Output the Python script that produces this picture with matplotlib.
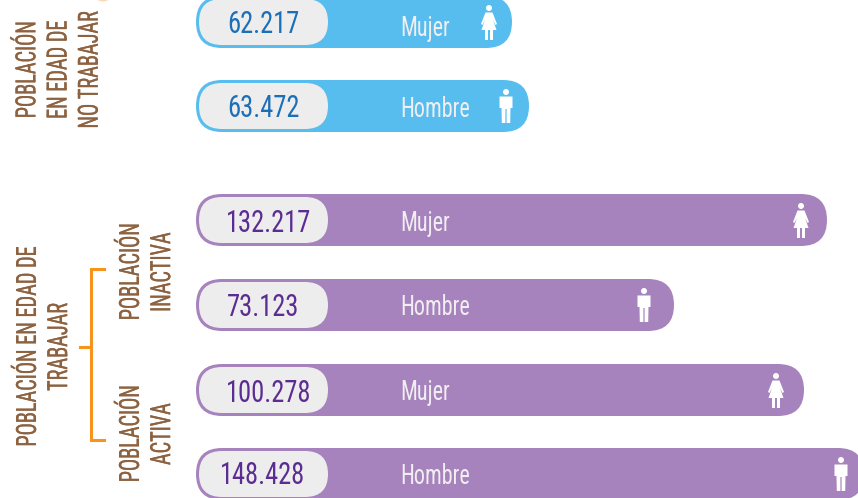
import matplotlib
matplotlib.use("Agg")
import matplotlib.pyplot as plt
from matplotlib import font_manager as fm
from matplotlib import patheffects as pe
from matplotlib.patches import FancyBboxPatch, Circle, Polygon, Rectangle, Ellipse

names = {f.name for f in fm.fontManager.ttflist}
BASE = next((n for n in ("Roboto Condensed", "Liberation Sans Narrow", "Roboto", "Noto Sans") if n in names), "DejaVu Sans")


def narrow_font(scale, out):
    """Return FontProperties of a horizontally scaled copy of the base font (real text stays real text)."""
    path = fm.findfont(BASE)
    try:
        from fontTools.ttLib import TTFont
        f = TTFont(path)
        for t in ("gvar", "HVAR", "MVAR", "avar", "fvar", "STAT"):
            if t in f:
                del f[t]
        glyf = f["glyf"]
        for name in glyf.keys():
            g = glyf[name]
            if g.isComposite():
                for c in g.components:
                    c.x = round(c.x * scale)
            elif g.numberOfContours > 0:
                g.coordinates.scale((scale, 1))
                g.coordinates.toInt()
            g.recalcBounds(glyf)
        hmtx = f["hmtx"]
        for name, (adv, lsb) in list(hmtx.metrics.items()):
            hmtx.metrics[name] = (round(adv * scale), round(lsb * scale))
        f.save(out)
        return {"fontproperties": fm.FontProperties(fname=out)}, True
    except Exception:
        return {"family": BASE}, False


# ---- data ----
value_labels = ["62.217", "63.472", "132.217", "73.123", "100.278", "148.428"]
sex_labels = ["Mujer", "Hombre", "Mujer", "Hombre", "Mujer", "Hombre"]
bar_lengths = [316, 333, 631, 478, 608, 668]   # drawn length
row_groups = ["blue", "blue", "purple", "purple", "purple", "purple"]

# ---- layout / style ----
W, H = 858, 498
X0 = 196
ROW_Y = [22, 106, 220, 305, 390, 474]
NUM_X = [263, 263, 269, 263, 269, 263]
NUM_BASE = [11, 11, 12, 11, 12, 10]
LAB_BASE = [14, 11, 11, 10, 10, 10]
ICON_OFFSET = [23, 23, 26, 30, 28, 23]
BAR_H = 52
BAR_COL = {"blue": "#57BDEE", "purple": "#A783BD"}
NUM_COL = {"blue": "#1B6FB9", "purple": "#5B2C92"}
GREY = "#EDEDED"
LABEL_COL = "#F1EEF2"
BROWN = "#8D6240"
ORANGE = "#F7941D"

font_side, _ = narrow_font(0.73, "narrow73.ttf")
font_lab, _ = narrow_font(0.80, "narrow80.ttf")
font_num, _ = narrow_font(0.87, "narrow87.ttf")

fig = plt.figure(figsize=(W / 100, H / 100), dpi=100)
ax = fig.add_axes([0, 0, 1, 1])
ax.set_xlim(0, W)
ax.set_ylim(H, 0)
ax.axis("off")


def pill(x, y, w, h, color, z):
    r = h / 2
    ax.add_patch(FancyBboxPatch((x + r, y - h / 2 + r), w - 2 * r, h - 2 * r,
                                boxstyle=f"round,pad={r},rounding_size={r}",
                                fc=color, ec="none", zorder=z))


def woman(cx, cy, color="white"):
    ax.add_patch(Circle((cx, cy - 16), 3.0, fc=color, ec="none", zorder=5))
    ax.add_patch(Polygon([(cx - 3.5, cy - 11.5), (cx + 3.5, cy - 11.5), (cx + 8, cy + 0), (cx + 6.5, cy + 1),
                          (cx + 4, cy - 4), (cx + 7.5, cy + 6), (cx - 7.5, cy + 6), (cx - 4, cy - 4),
                          (cx - 6.5, cy + 1), (cx - 8, cy + 0)], fc=color, ec="none", zorder=5))
    ax.add_patch(Rectangle((cx - 3.8, cy + 6), 3, 10, fc=color, ec="none", zorder=5))
    ax.add_patch(Rectangle((cx + 0.8, cy + 6), 3, 10, fc=color, ec="none", zorder=5))


def man(cx, cy, color="white"):
    ax.add_patch(Circle((cx, cy - 16), 3.0, fc=color, ec="none", zorder=5))
    ax.add_patch(Polygon([(cx - 6.5, cy - 11.5), (cx + 6.5, cy - 11.5), (cx + 6.5, cy + 0), (cx + 4.5, cy + 0),
                          (cx + 4.2, cy + 15), (cx + 0.6, cy + 15),
                          (cx + 0.6, cy + 1), (cx - 0.6, cy + 1), (cx - 0.6, cy + 15), (cx - 4.2, cy + 15),
                          (cx - 4.5, cy + 0), (cx - 6.5, cy + 0)],
                         fc=color, ec="none", zorder=5))


for y, nx, nb, lb, length, val, sex, grp, off in zip(ROW_Y, NUM_X, NUM_BASE, LAB_BASE, bar_lengths,
                                                     value_labels, sex_labels, row_groups, ICON_OFFSET):
    pill(X0, y, length, BAR_H, BAR_COL[grp], 2)
    pill(X0 + 3, y, 129, BAR_H - 6, GREY, 3)
    ax.text(nx, y + nb, val, size=22, color=NUM_COL[grp], ha="center", va="baseline", zorder=4, **font_num)
    ax.text(400, y + lb, sex, size=20, color=LABEL_COL, ha="left", va="baseline", zorder=4, **font_lab)
    (woman if sex == "Mujer" else man)(X0 + length - off, y + 2)

side = dict(size=20, color=BROWN, rotation=90, ha="center", va="center",
            linespacing=1.2, multialignment="center", **font_side)
effect = [pe.withStroke(linewidth=0.2, foreground=BROWN)]
for x, y, s in [(59, 70, "POBLACIÓN\nEN EDAD DE\nNO TRABAJAR"),
                (44, 347, "POBLACIÓN EN EDAD DE\nTRABAJAR"),
                (147, 272, "POBLACIÓN\nINACTIVA"),
                (147, 434, "POBLACIÓN\nACTIVA")]:
    ax.text(x, y, s, path_effects=effect, **side)

ax.plot([104, 91, 91, 104], [269, 269, 440, 440], color=ORANGE, lw=2.2, solid_joinstyle="miter", zorder=2)
ax.plot([80, 91], [347, 347], color=ORANGE, lw=2.2, zorder=2)
ax.add_patch(Ellipse((103, -3), 14, 9, fc="#F9D9B8", ec="none", zorder=1))

fig.savefig("out.png", dpi=100)
